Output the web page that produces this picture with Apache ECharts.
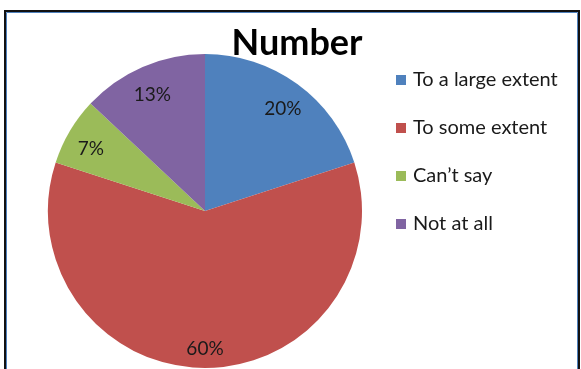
<!DOCTYPE html>
<html>
<head>
<meta charset="utf-8">
<script src="https://cdn.jsdelivr.net/npm/echarts@6/dist/echarts.min.js"></script>
<style>
  html, body { margin: 0; padding: 0; background: #fff; }
  #chart { width: 581px; height: 369px; }
</style>
</head>
<body>
<div id="chart"></div>
<script>
// Survey responses, share of respondents (%)
const categories = ['To a large extent', 'To some extent', 'Can\u2019t say', 'Not at all'];
const values = [20, 60, 7, 13];
const colors = ['#4F81BD', '#C0504D', '#9BBB59', '#8064A2'];

const pieData = categories.map((name, i) => ({
  name: name,
  value: values[i],
  itemStyle: { color: colors[i] }
}));

const labelData = categories.map((name, i) => ({
  name: name,
  value: values[i],
  itemStyle: { color: 'rgba(0,0,0,0)' }
}));

const chart = echarts.init(document.getElementById('chart'), null, { renderer: 'canvas' });

const center = [205, 211];
const radius = 157;

chart.setOption({
  animation: false,
  backgroundColor: '#ffffff',
  title: {
    text: 'Number',
    left: 297,
    top: 25,
    padding: 0,
    textAlign: 'center',
    textStyle: {
      fontFamily: 'Lato',
      fontWeight: 'bold',
      fontSize: 36,
      color: '#000000'
    }
  },
  legend: {
    orient: 'vertical',
    left: 396,
    top: 69,
    padding: 0,
    itemWidth: 10,
    itemHeight: 10,
    itemGap: 26,
    icon: 'rect',
    data: categories,
    textStyle: {
      fontFamily: 'Lato',
      fontSize: 20,
      color: '#1a1a1a',
      lineHeight: 22,
      padding: [0, 0, 0, 2]
    }
  },
  graphic: [
    {
      type: 'rect',
      shape: { x: 5, y: 11, width: 574, height: 380 },
      style: { fill: 'none', stroke: '#111111', lineWidth: 2 },
      silent: true
    },
    {
      type: 'rect',
      shape: { x: 6.5, y: 12.5, width: 571, height: 380 },
      style: { fill: 'none', stroke: '#4F81BD', lineWidth: 1 },
      silent: true
    }
  ],
  series: [
    {
      type: 'pie',
      center: center,
      radius: [0, radius],
      startAngle: 90,
      clockwise: true,
      label: { show: false },
      labelLine: { show: false },
      emphasis: { disabled: true },
      data: pieData
    },
    {
      // transparent ring used only to place the percentage labels near the rim
      type: 'pie',
      center: center,
      radius: [102, radius],
      startAngle: 90,
      clockwise: true,
      silent: true,
      legendHoverLink: false,
      label: {
        show: true,
        position: 'inside',
        formatter: '{c}%',
        fontFamily: 'Lato',
        fontSize: 19,
        color: '#1a1a1a'
      },
      labelLayout: { dy: 5 },
      labelLine: { show: false },
      emphasis: { disabled: true },
      data: labelData
    }
  ]
});
</script>
</body>
</html>
